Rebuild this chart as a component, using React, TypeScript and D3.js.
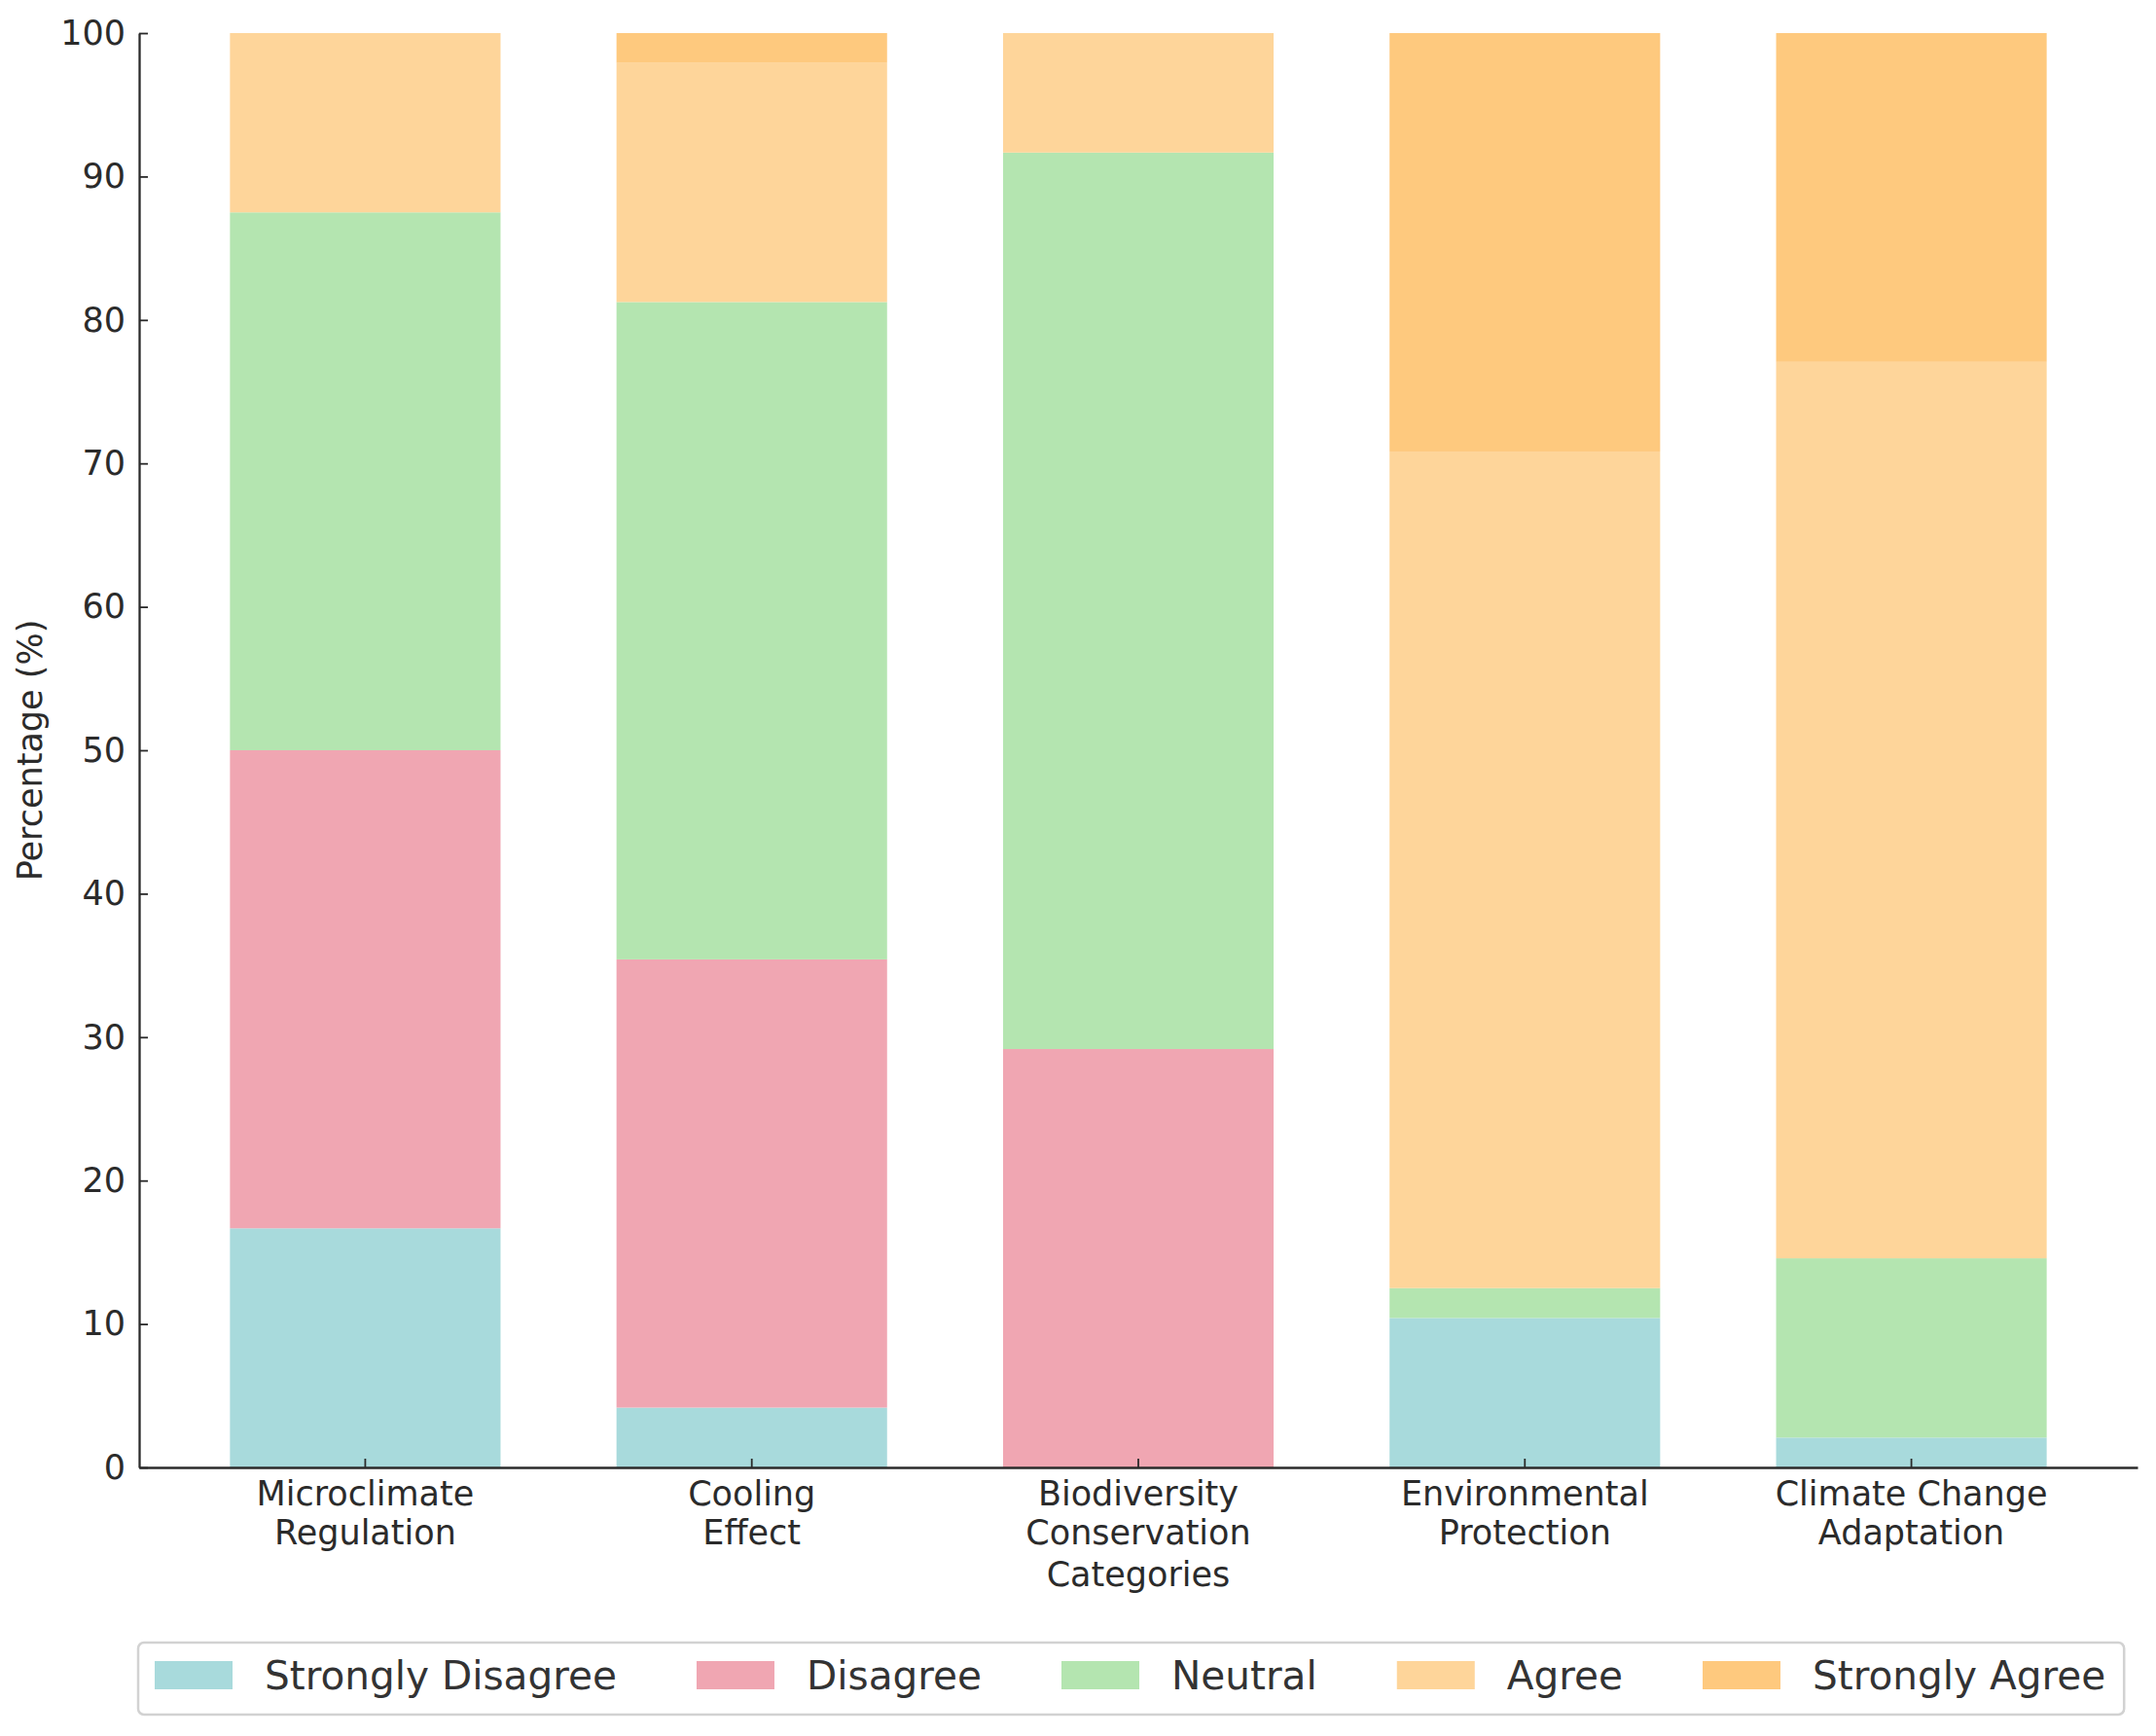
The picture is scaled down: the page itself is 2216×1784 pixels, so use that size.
import React, { useRef, useEffect } from 'react';
import * as d3 from 'd3';

// categories (two-line labels) and the answer share for each, in percent
const categories = [
    'Microclimate\nRegulation',
    'Cooling\nEffect',
    'Biodiversity\nConservation',
    'Environmental\nProtection',
    'Climate Change\nAdaptation',
];
const responses = ['Strongly Disagree', 'Disagree', 'Neutral', 'Agree', 'Strongly Agree'];
const stronglyDisagree = [16.67, 4.17, 0, 10.42, 2.08];
const disagree = [33.33, 31.25, 29.17, 0, 0];
const neutral = [37.5, 45.83, 62.5, 2.08, 12.5];
const agree = [12.5, 16.67, 8.33, 58.33, 62.5];
const stronglyAgree = [0, 2.08, 0, 29.17, 22.92];
const yTicks = [0, 10, 20, 30, 40, 50, 60, 70, 80, 90, 100];
const colors = ['#a8dadc', '#f0a6b2', '#b4e5b0', '#fed59a', '#fec97e'];

const W = 2216;
const H = 1784;
const margin = { left: 143, right: 19, top: 34, bottom: 276 };
const FONT = 'DejaVu Sans, sans-serif';
const INK = '#2b2b2b';
const LABEL_SIZE = 35;
const LEGEND_SIZE = 40.6;

export default function App() {
    const ref = useRef<SVGSVGElement | null>(null);

    useEffect(() => {
        if (!ref.current) return;
        const svg = d3.select(ref.current);
        svg.selectAll('*').remove();

        const series = [stronglyDisagree, disagree, neutral, agree, stronglyAgree];
        const rows = categories.map((c, i) => {
            const row: any = { category: c };
            responses.forEach((r, k) => { row[r] = series[k][i]; });
            return row;
        });
        const stacked = d3.stack().keys(responses)(rows);

        const x = d3.scaleBand<string>()
            .domain(categories)
            .range([margin.left, W - margin.right])
            .paddingInner(0.3)
            .paddingOuter(0.235);
        const y = d3.scaleLinear()
            .domain([0, 100])
            .range([H - margin.bottom, margin.top]);

        const color = d3.scaleOrdinal<string, string>().domain(responses).range(colors);

        svg.append('g')
            .selectAll('g')
            .data(stacked)
            .join('g')
            .attr('fill', d => color(d.key))
            .selectAll('rect')
            .data(d => d)
            .join('rect')
            .attr('x', d => x((d.data as any).category)!)
            .attr('width', x.bandwidth())
            .attr('y', d => y(d[1]))
            .attr('height', d => y(d[0]) - y(d[1]));

        /* axes, ticks pointing inward */
        const yAxis = d3.axisLeft(y)
            .tickValues(yTicks)
            .tickSizeInner(-9)
            .tickSizeOuter(0)
            .tickPadding(14);
        const gy = svg.append('g')
            .attr('transform', `translate(${margin.left},0)`)
            .call(yAxis);

        const xAxis = d3.axisBottom(x)
            .tickSizeInner(-9)
            .tickSizeOuter(0)
            .tickPadding(14);
        const gx = svg.append('g')
            .attr('transform', `translate(0,${H - margin.bottom})`)
            .call(xAxis);

        [gx, gy].forEach(g => {
            g.selectAll('path').attr('stroke', INK).attr('stroke-width', 2.3);
            g.selectAll('line').attr('stroke', INK).attr('stroke-width', 1.8);
            g.selectAll('text')
                .attr('font-family', FONT)
                .attr('font-size', LABEL_SIZE)
                .attr('fill', INK);
        });

        // split the category names over two lines
        gx.selectAll<SVGTextElement, string>('text').each(function (d) {
            const t = d3.select(this);
            t.text(null);
            d.split('\n').forEach((line, i) => {
                t.append('tspan')
                    .attr('x', 0)
                    .attr('dy', i === 0 ? '0.71em' : '40px')
                    .text(line);
            });
        });

        svg.append('text')
            .attr('x', (margin.left + W - margin.right) / 2)
            .attr('y', 1630)
            .attr('text-anchor', 'middle')
            .attr('font-family', FONT)
            .attr('font-size', LABEL_SIZE)
            .attr('fill', INK)
            .text('Categories');

        svg.append('text')
            .attr('transform', `translate(43,${(y(0) + y(100)) / 2}) rotate(-90)`)
            .attr('text-anchor', 'middle')
            .attr('font-family', FONT)
            .attr('font-size', LABEL_SIZE)
            .attr('fill', INK)
            .text('Percentage (%)');

        /* legend */
        const legend = svg.append('g');
        const frame = legend.append('rect')
            .attr('x', 142)
            .attr('y', 1688)
            .attr('height', 74)
            .attr('rx', 6)
            .attr('fill', '#fff')
            .attr('stroke', '#d2d2d2')
            .attr('stroke-width', 2.5);

        let cx = 159;
        responses.forEach((r, i) => {
            legend.append('rect')
                .attr('x', cx)
                .attr('y', 1707)
                .attr('width', 80)
                .attr('height', 29)
                .attr('fill', color(r));
            const t = legend.append('text')
                .attr('x', cx + 113)
                .attr('y', 1736)
                .attr('font-family', FONT)
                .attr('font-size', LEGEND_SIZE)
                .attr('fill', '#333')
                .text(r);
            const w = (t.node() as SVGTextElement).getComputedTextLength();
            cx += 113 + w + (i < responses.length - 1 ? 82 : 0);
        });
        frame.attr('width', cx + 19 - 142);
    }, []);

    return (
        <svg
            ref={ref}
            width={W}
            height={H}
            style={{ position: 'absolute', left: 0, top: 0, background: '#fff' }}
        />
    );
}
